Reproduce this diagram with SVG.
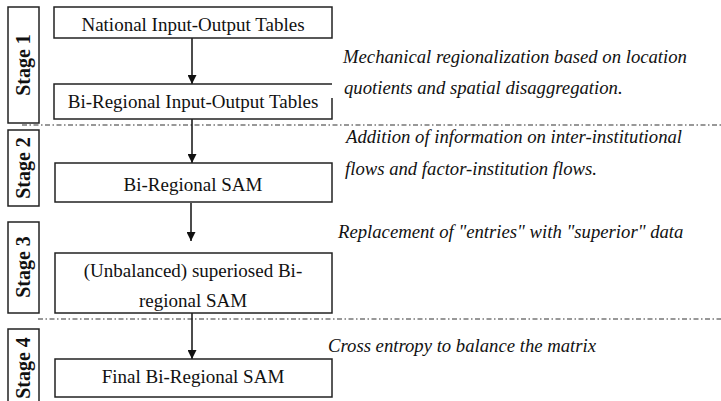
<svg xmlns="http://www.w3.org/2000/svg" width="721" height="401" viewBox="0 0 721 401">
  <defs>
    <marker id="arrow" viewBox="0 0 10 10" refX="10" refY="5" markerWidth="10" markerHeight="9" markerUnits="userSpaceOnUse" orient="auto">
      <path d="M0,0 L10,5 L0,10 Z" fill="#111"/>
    </marker>
    <style>
      .box { fill: #fff; stroke: #222; stroke-width: 1.5; }
      .lbl { font-family: "Liberation Serif", "Times New Roman", serif; font-size: 19px; fill: #111; text-anchor: middle; }
      .stage { font-family: "Liberation Serif", "Times New Roman", serif; font-size: 20px; font-weight: bold; fill: #111; text-anchor: middle; }
      .note { font-family: "Liberation Serif", "Times New Roman", serif; font-size: 18.7px; font-style: italic; fill: #111; }
      .edge { stroke: #111; stroke-width: 1.5; fill: none; marker-end: url(#arrow); }
      .sep { stroke: #333; stroke-width: 1.2; stroke-dasharray: 5 2.5 1.5 2.5; fill: none; }
    </style>
  </defs>
  <rect width="721" height="401" fill="#fff"/>

  <!-- stage separators -->
  <g id="separators">
    <line class="sep" x1="22" y1="125" x2="721" y2="125"/>
    <line class="sep" x1="38" y1="319" x2="721" y2="319"/>
  </g>

  <!-- stage tabs -->
  <g id="stage1">
    <rect class="box" x="8" y="7" width="31" height="116"/>
    <text class="stage" transform="translate(29.5,65) rotate(-90)">Stage 1</text>
  </g>
  <g id="stage2">
    <rect class="box" x="8" y="130" width="31" height="76"/>
    <text class="stage" transform="translate(29.5,168) rotate(-90)">Stage 2</text>
  </g>
  <g id="stage3">
    <rect class="box" x="8" y="222" width="31" height="91"/>
    <text class="stage" transform="translate(29.5,267) rotate(-90)">Stage 3</text>
  </g>
  <g id="stage4">
    <rect class="box" x="8" y="329" width="31" height="80"/>
    <text class="stage" transform="translate(29.5,368) rotate(-90)">Stage 4</text>
  </g>

  <!-- connectors -->
  <g id="connectors">
    <line class="edge" x1="192" y1="38" x2="192" y2="84"/>
    <line class="edge" x1="192" y1="119" x2="192" y2="163"/>
    <line class="edge" x1="191" y1="203" x2="191" y2="241"/>
    <line class="edge" x1="192" y1="313" x2="192" y2="359"/>
  </g>

  <!-- process boxes -->
  <g id="national-io">
    <rect class="box" x="54" y="7" width="278" height="31"/>
    <text class="lbl" x="193" y="31">National Input-Output Tables</text>
  </g>
  <g id="biregional-io">
    <path class="box" d="M332,98 L332,119 L54,119 L54,84 L332,84"/>
    <text class="lbl" x="193" y="108">Bi-Regional Input-Output Tables</text>
  </g>
  <g id="biregional-sam">
    <rect class="box" x="55" y="163" width="277" height="39"/>
    <text class="lbl" x="193" y="191">Bi-Regional SAM</text>
  </g>
  <g id="superiosed-sam">
    <rect class="box" x="55" y="253" width="277" height="60"/>
    <text class="lbl" x="193" y="277">(Unbalanced) superiosed Bi-</text>
    <text class="lbl" x="193" y="307">regional SAM</text>
  </g>
  <g id="final-sam">
    <rect class="box" x="55" y="359" width="277" height="38"/>
    <text class="lbl" x="193" y="383">Final Bi-Regional SAM</text>
  </g>

  <!-- stage descriptions -->
  <g id="notes">
    <text class="note" x="343" y="63">Mechanical regionalization based on location</text>
    <text class="note" x="344" y="94">quotients and spatial disaggregation.</text>
    <text class="note" x="346" y="143">Addition of information on inter-institutional</text>
    <text class="note" x="345" y="175">flows and factor-institution flows.</text>
    <text class="note" x="338" y="238">Replacement of "entries" with "superior" data</text>
    <text class="note" x="328" y="352">Cross entropy to balance the matrix</text>
  </g>
</svg>
